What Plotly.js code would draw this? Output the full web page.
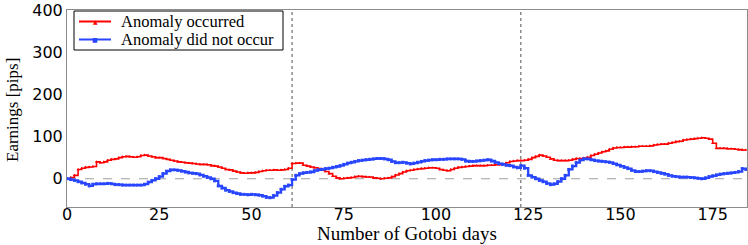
<!DOCTYPE html>
<html>
<head>
<meta charset="utf-8">
<script src="https://cdn.plot.ly/plotly-3.0.1.min.js"></script>
<style>html,body{margin:0;padding:0;background:#fff;}#chart{width:748px;height:245px;}</style>
</head>
<body>
<div id="chart"></div>
<script>
// Earnings per Gotobi day (pips)
const anomalyOccurred = [
  0, 3, 8, 22, 25, 27, 28, 29, 40, 38, 40, 44, 46, 47, 50, 52, 53, 52, 51, 52,
  55, 56, 54, 52, 50, 50, 48, 46, 44, 42, 40, 39, 38, 37, 36, 35, 34, 34, 33, 31,
  30, 28, 25, 22, 21, 18, 16, 14, 13, 14, 14, 15, 17, 19, 20, 20, 21, 20, 21, 22,
  25, 36, 37, 37, 32, 30, 28, 26, 24, 20, 17, 12, 6, 2, 0, 1, 2, 3, 5, 6,
  5, 4, 4, 2, 1, 0, 1, 2, 5, 9, 12, 16, 19, 20, 22, 23, 24, 25, 26, 26,
  25, 22, 20, 19, 22, 25, 27, 28, 29, 30, 31, 31, 31, 31, 32, 32, 33, 33, 35, 38,
  41, 42, 43, 43, 44, 46, 50, 53, 56, 54, 51, 47, 44, 43, 43, 43, 44, 46, 48, 48,
  49, 51, 55, 58, 61, 64, 66, 70, 73, 74, 74, 75, 75, 76, 76, 77, 77, 77, 78, 80,
  81, 82, 82, 84, 86, 88, 89, 92, 93, 94, 95, 96, 97, 96, 94, 84, 72, 72, 72, 71,
  71, 70, 69, 68, 68
];
const anomalyNotOccurred = [
  0, -2, -4, -7, -10, -13, -17, -13, -12, -12, -12, -11, -12, -14, -14, -15, -15, -15, -15, -15,
  -15, -13, -8, -4, 0, 5, 12, 18, 21, 21, 20, 18, 16, 14, 13, 12, 9, 6, 3, 0,
  -5, -17, -22, -27, -30, -33, -35, -37, -37, -38, -37, -38, -39, -41, -44, -45, -40, -33, -25, -18,
  -15, -2, 8, 12, 14, 15, 16, 19, 21, 22, 24, 25, 27, 29, 31, 34, 37, 39, 41, 43,
  44, 45, 46, 47, 48, 48, 47, 45, 41, 38, 38, 39, 37, 35, 37, 39, 41, 43, 44, 45,
  45, 46, 46, 47, 47, 47, 47, 46, 42, 41, 41, 42, 43, 44, 45, 42, 39, 36, 34, 32,
  31, 28, 26, 31, 25, 8, 4, 0, -4, -7, -11, -14, -12, -7, 0, 8, 22, 30, 38, 44,
  47, 47, 45, 43, 42, 41, 40, 39, 36, 33, 30, 27, 24, 20, 17, 17, 18, 19, 19, 17,
  15, 13, 11, 8, 6, 5, 4, 4, 4, 3, 2, 1, 0, 2, 5, 7, 9, 11, 12, 13,
  14, 15, 17, 24, 22
];
const days = anomalyOccurred.map((_, i) => i);
const periodBoundaries = [61, 123];
const seriesNames = ['Anomaly occurred', 'Anomaly did not occur'];
const seriesColors = ['rgb(255,0,0)', 'rgb(40,70,255)'];
const seriesSymbols = ['▲', '■'];
const yTicks = [0, 100, 200, 300, 400];
const xTicks = [0, 25, 50, 75, 100, 125, 150, 175];

const traces = [
  {
    x: days, y: anomalyOccurred, name: seriesNames[0], type: 'scatter', mode: 'lines+markers',
    line: {color: seriesColors[0], width: 1.6, shape: 'hv'},
    marker: {symbol: 'triangle-up', size: 3, color: seriesColors[0]}
  },
  {
    x: days, y: anomalyNotOccurred, name: seriesNames[1], type: 'scatter', mode: 'lines+markers',
    line: {color: seriesColors[1], width: 2.3, shape: 'hv'},
    marker: {symbol: 'square', size: 3, color: seriesColors[1]}
  }
];

// plot area in pixels: left 67, right 747, top 10, bottom 207
const PL = 67, PW = 680, PT = 10, PH = 197;
const px2x = p => (p - PL) / PW;
const py2y = p => (PT + PH - p) / PH;

const shapes = [
  {type: 'line', xref: 'paper', yref: 'y', x0: 0, x1: 1, y0: 0, y1: 0,
   line: {color: 'rgb(160,160,160)', width: 1.2, dash: 'dash'}, layer: 'below'}
].concat(periodBoundaries.map(b => ({
  type: 'line', xref: 'x', yref: 'paper', x0: b, x1: b, y0: 0, y1: 1,
  line: {color: 'rgb(80,80,80)', width: 1, dash: 'dot'}, layer: 'below'
})));

// legend frame
shapes.push({type: 'rect', xref: 'paper', yref: 'paper',
  x0: px2x(74), x1: px2x(283), y0: py2y(50), y1: py2y(11),
  line: {color: '#000', width: 1}, fillcolor: 'rgba(255,255,255,1)', layer: 'above'});

const serif = 'Liberation Serif';
const annotations = [];
const rowY = [21.5, 39.5];
seriesNames.forEach((name, i) => {
  shapes.push({type: 'line', xref: 'paper', yref: 'paper',
    x0: px2x(79), x1: px2x(111), y0: py2y(rowY[i]), y1: py2y(rowY[i]),
    line: {color: seriesColors[i], width: 2}, layer: 'above'});
  annotations.push({xref: 'paper', yref: 'paper', x: px2x(95), y: py2y(rowY[i]),
    text: seriesSymbols[i], showarrow: false, xanchor: 'center', yanchor: 'middle',
    font: {family: 'DejaVu Sans', size: 6, color: seriesColors[i]}});
  annotations.push({xref: 'paper', yref: 'paper', x: px2x(119), y: py2y(rowY[i]),
    text: name, showarrow: false, xanchor: 'left', yanchor: 'middle',
    font: {family: serif, size: 16.5, color: '#000'}});
});

// axis titles
annotations.push({xref: 'paper', yref: 'paper', x: 0.5, y: py2y(245), xanchor: 'center', yanchor: 'bottom',
  borderpad: 0, text: 'Number of Gotobi days', showarrow: false, font: {family: serif, size: 19, color: '#000'}});
annotations.push({xref: 'paper', yref: 'paper', x: px2x(12), y: py2y(110), xanchor: 'center', yanchor: 'middle',
  textangle: -90, text: 'Earnings [pips]', showarrow: false, font: {family: serif, size: 17, color: '#000'}});

const tickFont = {family: 'DejaVu Sans', size: 16, color: '#000'};

const layout = {
  width: 748, height: 245,
  margin: {l: PL, r: 748 - PL - PW, t: PT, b: 245 - PT - PH},
  paper_bgcolor: '#fff', plot_bgcolor: '#fff',
  showlegend: false,
  xaxis: {
    range: [0, 184.3], tickvals: xTicks, ticktext: xTicks.map(String),
    showgrid: false, zeroline: false, showline: true, mirror: true,
    linecolor: 'rgb(140,140,140)', linewidth: 1, ticks: '',
    tickfont: tickFont, ticklabeloverflow: 'allow', ticklabelstandoff: -7
  },
  yaxis: {
    range: [-67, 400], tickvals: yTicks, ticktext: yTicks.map(String),
    showgrid: false, zeroline: false, showline: true, mirror: true,
    linecolor: 'rgb(140,140,140)', linewidth: 1, ticks: '',
    tickfont: tickFont, ticklabeloverflow: 'allow'
  },
  shapes: shapes,
  annotations: annotations
};

Plotly.newPlot('chart', traces, layout, {displayModeBar: false, staticPlot: true});
</script>
</body>
</html>
